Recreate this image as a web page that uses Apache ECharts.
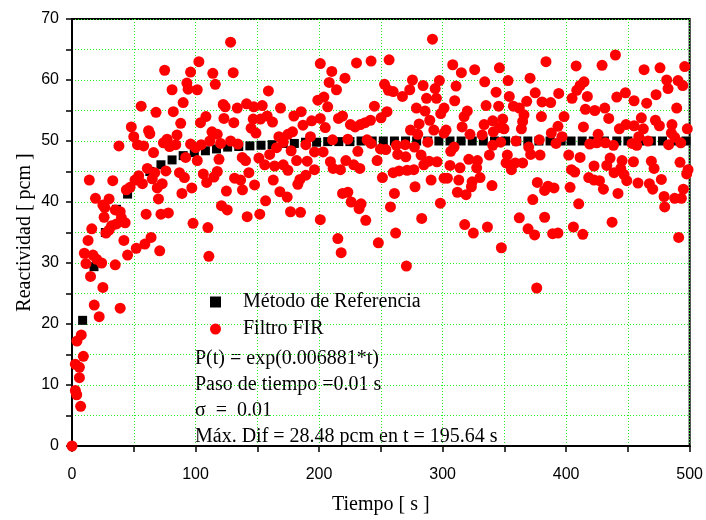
<!DOCTYPE html>
<html>
<head>
<meta charset="utf-8">
<script src="https://cdn.jsdelivr.net/npm/echarts@6/dist/echarts.min.js"></script>
<style>
  html, body { margin: 0; padding: 0; background: #fff; }
  #chart { width: 706px; height: 520px; }
</style>
</head>
<body>
<div id="chart"></div>
<script>
// Método de Referencia (cuadros negros) [t, reactividad]
var refPoints = [
  [8.6, 20.6], [17.8, 29.4], [27, 35.0], [36, 38.8], [45, 41.3], [54, 43.5], [63, 45.0],
  [72, 46.1], [81, 46.9], [90, 47.6], [99, 48.1], [108, 48.4], [117, 48.7], [126, 49.0],
  [135, 49.1], [144, 49.2], [153, 49.3], [162, 49.4], [171, 49.6], [180, 49.6], [189, 49.8],
  [198, 49.8], [207, 49.9], [216, 49.9], [225, 49.9], [234, 50], [243, 50], [252, 50],
  [261, 50], [270, 50], [279, 50], [288, 50], [297, 50], [306, 50], [315, 50], [324, 50],
  [333, 50], [342, 50], [351, 50], [360, 50], [369, 50], [378, 50], [387, 50], [396, 50],
  [404, 50], [413, 50], [422, 50], [431, 50], [441, 50], [450, 50], [460, 50], [469, 50],
  [478, 50], [488, 50], [497, 50]
];

// Filtro FIR (círculos rojos) [t, reactividad]
var firPoints = [
  [0, 0], [2.7, 13.4], [2.7, 9.1], [3.8, 8.4], [4, 17.2], [6, 12.9], [6, 11.2], [7, 6.5], [7.5, 18.2], [9.2, 14.7],
  // 0 - 100 s
  [75, 61.6], [96, 61.3], [93, 59.5], [94, 58.5], [81, 58.4], [90, 56.3], [56, 55.7], [68, 54.7], [82, 54.8],
  [88, 52.9], [48, 52.3], [62, 51.7], [63, 51.2], [50, 50.7], [77, 50.3], [85, 51.0], [74, 49.7], [79, 49.1],
  [84, 49.4], [53, 49.4], [58, 49.2], [38, 49.2], [96, 49.5], [100, 48.9], [66, 48.1], [92, 47.3], [76, 45.1],
  [61, 45.5], [67, 44.8], [54, 44.3], [51, 43.6], [57, 43.0], [65, 43.8], [87, 44.8], [91, 44.0], [14, 43.6],
  [33, 43.5], [73, 43.0], [69, 42.3], [97, 42.3], [47, 42.4], [44, 42.0], [89, 41.4], [70, 40.5], [19, 40.6],
  [30, 40.5], [25, 39.5], [26.5, 39.1], [35, 38.7], [39, 38.4], [60, 38.0], [72, 38.0], [78, 38.2], [26, 37.5],
  [40, 37.4], [43, 36.6], [98, 36.5], [36, 36.4], [32, 36.1], [30, 35.4], [27.5, 34.9], [16, 35.6], [64, 34.2],
  [42, 33.7], [13, 33.7], [59, 33.1], [52, 32.4], [45, 31.3], [71, 32.0], [10, 31.6], [17, 31.3], [11.3, 29.9],
  [24, 30.0], [35, 29.7], [20, 30.6], [15, 27.8], [25, 26.0], [18, 23.1], [39, 22.6], [22, 21.2],
  // 100 - 200 s
  [128.4, 66.2], [102.7, 63.0], [130.5, 61.2], [114, 61.1], [116, 59.3], [101.4, 58.4], [159, 58.2], [201, 62.7],
  [122.4, 56.0], [124, 55.6], [133.8, 55.4], [141.3, 56.1], [147.2, 55.6], [154, 55.8], [168.8, 55.4], [199, 56.7],
  [108.4, 54.0], [104, 53.0], [123, 53.7], [131, 53.0], [146.7, 53.6], [158, 54.1], [162.3, 53.1], [179.6, 54.1],
  [185.5, 54.8], [194, 53.3], [187, 52.6], [145, 52.1], [152.6, 53.6], [113.3, 51.5], [117.6, 51.1], [148.9, 51.3],
  [178.5, 51.5], [174.8, 51.1], [193, 50.7], [167.5, 50.7], [104.6, 49.4], [111.6, 50.0], [120.3, 49.6], [128.4, 50.0],
  [134.3, 49.5], [171, 49.8], [189.3, 49.4], [101.4, 46.8], [119, 47.0], [137.8, 47.3], [140.5, 46.8], [151.3, 47.2],
  [156, 46.1], [160, 47.8], [165.6, 48.9], [177.4, 48.4], [181.8, 46.8], [190.4, 46.7], [196.3, 48.2], [164, 45.9],
  [171, 46.1], [174.8, 45.2], [196.3, 45.3], [106.3, 44.6], [117.6, 45.0], [114.9, 44.1], [143.2, 44.8], [109, 43.2],
  [131.6, 43.9], [136.5, 43.6], [162.9, 43.6], [184.5, 43.7], [182.8, 42.9], [189.3, 44.4], [147.8, 42.8], [138, 42.0],
  [125, 41.8], [168.3, 41.7], [174.2, 40.8], [156.7, 40.2], [121, 39.4], [125.7, 38.7], [141.8, 37.6], [152, 38.0],
  [176.9, 38.4], [185, 38.3], [201, 37.1], [110, 35.8], [110.8, 31.1],
  // 200 - 300 s
  [291.8, 66.7], [230.3, 62.8], [242.1, 63.1], [256.7, 63.3], [210.3, 61.4], [221, 60.3], [208.2, 59.6], [214.1, 58.4],
  [253, 59.3], [256.2, 58.3], [260, 58.1], [275.6, 60.0], [273.4, 58.4], [267.5, 57.3], [284.2, 59.1], [294, 58.6],
  [297.4, 59.9], [287, 57.0], [295, 57.0], [203.9, 57.2], [207, 55.6], [244.8, 55.7], [278.8, 55.4], [285.8, 54.9],
  [255, 54.8], [250.2, 53.8], [219, 54.1], [215.7, 53.7], [201, 53.7], [205, 52.2], [225.4, 52.7], [229.2, 52.3],
  [233.5, 52.7], [237.3, 53.0], [241.6, 53.4], [281, 52.8], [289.6, 53.4], [274, 51.8], [292.9, 51.8], [279.9, 51.1],
  [210.9, 50.2], [223.3, 50.3], [238.9, 50.2], [242.1, 49.6], [249.7, 48.7], [254, 48.6], [262.6, 49.3], [269.7, 49.4],
  [277.2, 49.0], [288, 49.8], [203.3, 48.2], [231.4, 48.3], [263.7, 47.8], [270.2, 47.4], [282.6, 47.7], [209.2, 46.6],
  [221.7, 46.8], [228.1, 46.1], [233, 45.5], [247, 46.8], [211.4, 45.5], [217.3, 45.3], [260, 44.8], [264.8, 45.1],
  [271.3, 45.2], [276.7, 45.3], [284.8, 46.1], [289, 46.7], [295.5, 46.6], [251.3, 44.0], [277.7, 42.5], [290.7, 43.6],
  [219, 41.4], [223.3, 41.6], [226, 40.0], [234, 39.7], [232.4, 38.9], [261, 41.4], [257.8, 39.2], [237.8, 37.0],
  [283.1, 37.3], [298.2, 39.8], [215.2, 34.0], [217.9, 31.7], [248, 33.3], [262, 34.9], [270.7, 29.5],
  // 300 - 400 s
  [383.7, 63.0], [308.2, 62.5], [315.2, 61.2], [326, 61.7], [346, 62.0], [334.1, 59.7], [353, 59.9], [370.8, 60.3],
  [310.9, 59.0], [343.3, 58.0], [354, 57.3], [375, 57.9], [394, 57.8], [309.8, 56.6], [335.2, 55.8], [345.4, 55.7],
  [357.3, 55.7], [362.1, 55.4], [368.1, 56.5], [380.5, 56.4], [387.5, 56.3], [301.2, 55.4], [298.5, 54.5], [320, 54.9],
  [317.4, 54.0], [365.9, 54.3], [380, 54.0], [348.7, 53.6], [340.6, 53.3], [333.6, 52.7], [346, 52.2], [364.8, 53.2],
  [315.8, 52.3], [398.3, 54.0], [302.8, 51.8], [341.1, 51.5], [349.7, 52.0], [363.8, 52.0], [393.4, 52.4], [301.2, 51.3],
  [322.2, 51.1], [332, 51.0], [388, 51.3], [396.7, 50.7], [359.4, 50.0], [378.3, 50.2], [391.8, 49.6], [340.6, 49.3],
  [347, 49.8], [309.3, 49.0], [306.6, 48.3], [369.7, 49.0], [337.9, 47.7], [352.4, 47.7], [371.3, 47.8], [378.9, 47.7],
  [321.2, 47.0], [328.2, 46.8], [351.4, 46.4], [358.9, 46.4], [364.8, 46.4], [306, 46.0], [327.6, 45.6], [314.1, 45.6],
  [355.7, 45.3], [301.2, 43.9], [303.9, 43.9], [313.1, 43.6], [330.3, 44.0], [323.9, 43.3], [323.3, 42.5], [340, 42.7],
  [376.7, 43.2], [385.3, 42.6], [390.2, 42.3], [382.6, 41.9], [312, 41.6], [319, 41.2], [373, 40.4], [317.9, 36.3],
  [324.9, 34.9], [336.3, 35.9], [362.1, 37.4], [382.6, 37.5], [369.2, 35.6], [374.5, 34.6], [389.1, 34.8], [393.4, 34.9],
  [347.6, 32.5], [376.2, 25.9],
  // 400 - 500 s
  [439.9, 64.1], [408.1, 62.3], [429.1, 62.4], [463.1, 61.7], [476, 62.0], [496, 62.2], [414.5, 59.7], [411.3, 59.1],
  [408.6, 58.3], [404.8, 57.0], [417.2, 57.3], [441, 57.2], [448, 57.9], [455, 56.6], [465.2, 56.2], [472.8, 57.6],
  [481.4, 60.0], [482.5, 58.6], [490.6, 59.9], [494.4, 59.1], [489.5, 55.4], [415.6, 55.2], [423.2, 55.0], [431.3, 55.4],
  [434.5, 53.7], [460.9, 53.8], [472.3, 53.4], [414, 52.3], [443.1, 52.0], [448.5, 52.7], [455, 52.5], [462.5, 52.0],
  [475.5, 52.5], [485.7, 52.7], [498.1, 52.0], [425.9, 51.1], [458.8, 50.7], [466.3, 50.0], [485.2, 51.3], [487.9, 50.6],
  [419.1, 49.5], [424.8, 49.7], [431.8, 49.7], [438.3, 49.3], [453.4, 49.6], [457.2, 49.3], [483, 49.4], [492.8, 49.7],
  [402.1, 47.7], [411.3, 47.3], [435.6, 47.2], [445.3, 46.8], [454.5, 46.6], [469, 46.7], [492.2, 46.5], [422.6, 45.9],
  [432.9, 46.0], [404.3, 45.3], [407, 44.9], [438.8, 44.8], [444.2, 45.5], [446.9, 44.5], [471.2, 45.5], [497.6, 44.6],
  [418.3, 44.0], [422.6, 43.6], [427, 43.5], [449.1, 43.5], [458.2, 43.1], [467.4, 43.0], [477.1, 43.7], [403.2, 42.4],
  [430.2, 42.1], [442, 41.4], [470.1, 42.1], [494.9, 42.1], [479.3, 40.9], [487.9, 40.6], [493.3, 40.6], [479.8, 39.2],
  [410.2, 39.7], [405.9, 35.9], [413.5, 34.7], [437.2, 36.7], [491.1, 34.2], [498.7, 45.3]
];

var seriesNames = ['Método de Referencia', 'Filtro FIR'];
var infoLines = [
  'P(t) = exp(0.006881*t)',
  'Paso de tiempo =0.01 s',
  'σ  =  0.01',
  'Máx. Dif = 28.48 pcm en t = 195.64 s'
];

var serif = '"Liberation Serif", "Times New Roman", serif';
var sans = '"Liberation Sans", Arial, sans-serif';
var gridGreen = '#22f022';
var gridDots = [1, 2];

var chart = echarts.init(document.getElementById('chart'), null, { renderer: 'canvas' });

var option = {
  animation: false,
  backgroundColor: '#fff',
  grid: {
    left: 72, right: 16, top: 19, bottom: 68,
    show: true, borderColor: '#000', borderWidth: 2
  },
  legend: {
    orient: 'vertical',
    left: 205, top: 287,
    itemWidth: 11, itemHeight: 11, itemGap: 7,
    data: [
      { name: seriesNames[0], icon: 'rect' },
      { name: seriesNames[1], icon: 'circle' }
    ],
    textStyle: { fontFamily: serif, fontSize: 20, color: '#000', lineHeight: 19, padding: [0, 0, 0, 17] }
  },
  graphic: [{
    type: 'text',
    left: 195, top: 346,
    style: {
      text: infoLines.join('\n'),
      font: '20px ' + serif,
      lineHeight: 26,
      fill: '#000'
    }
  }],
  xAxis: {
    type: 'value', min: 0, max: 500, interval: 100,
    name: 'Tiempo [ s ]', nameLocation: 'middle', nameGap: 49, nameMoveOverlap: false,
    nameTextStyle: { fontFamily: serif, fontSize: 20, color: '#000' },
    axisLine: { lineStyle: { color: '#000', width: 2 } },
    axisTick: { length: 6, lineStyle: { color: '#000', width: 1.5 } },
    minorTick: { show: true, splitNumber: 2, length: 6, lineStyle: { color: '#000', width: 1.5 } },
    axisLabel: { color: '#000', fontFamily: sans, fontSize: 16, margin: 21 },
    splitLine: { show: true, lineStyle: { color: gridGreen, type: gridDots, width: 1 } },
    minorSplitLine: { show: true, lineStyle: { color: gridGreen, type: gridDots, width: 1 } }
  },
  yAxis: {
    type: 'value', min: 0, max: 70, interval: 10,
    name: 'Reactividad [ pcm ]', nameLocation: 'middle', nameGap: 37, nameMoveOverlap: false,
    nameTextStyle: { fontFamily: serif, fontSize: 20, color: '#000' },
    axisLine: { show: true, lineStyle: { color: '#000', width: 2 } },
    axisTick: { show: true, length: 6, lineStyle: { color: '#000', width: 1.5 } },
    minorTick: { show: true, splitNumber: 2, length: 6, lineStyle: { color: '#000', width: 1.5 } },
    axisLabel: { color: '#000', fontFamily: sans, fontSize: 16, margin: 13 },
    splitLine: { show: true, lineStyle: { color: gridGreen, type: gridDots, width: 1 } },
    minorSplitLine: { show: true, lineStyle: { color: gridGreen, type: gridDots, width: 1 } }
  },
  series: [
    {
      name: seriesNames[0],
      type: 'scatter',
      symbol: 'rect',
      symbolSize: 9,
      itemStyle: { color: '#000', opacity: 1 },
      data: refPoints
    },
    {
      name: seriesNames[1],
      type: 'scatter',
      symbol: 'circle',
      symbolSize: 11,
      itemStyle: { color: '#ff0000', opacity: 1 },
      data: firPoints
    }
  ]
};

chart.setOption(option);
</script>
</body>
</html>
